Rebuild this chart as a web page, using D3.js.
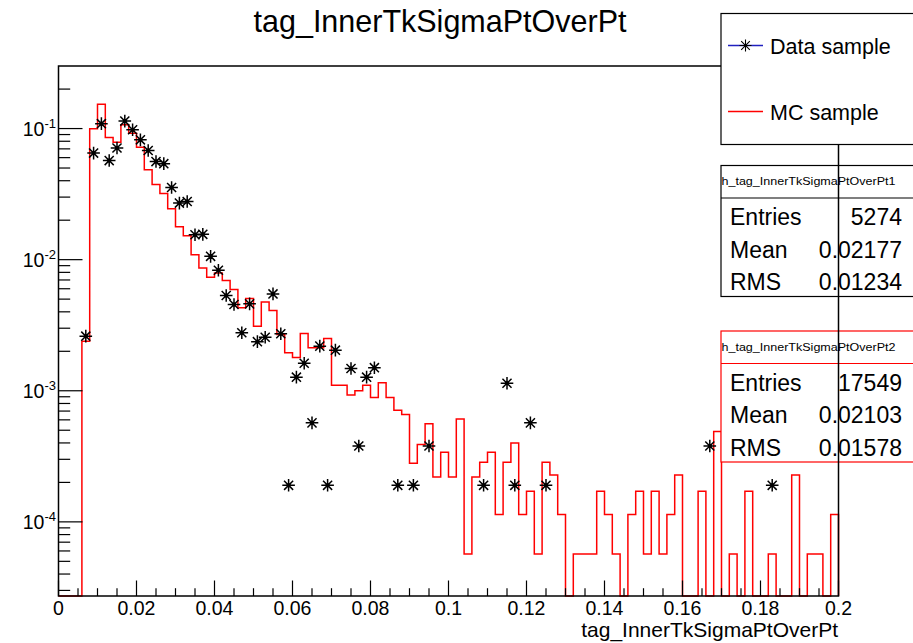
<!DOCTYPE html>
<html><head><meta charset="utf-8">
<script src="https://cdn.jsdelivr.net/npm/d3@7/dist/d3.min.js"></script>
<style>body{margin:0;background:#fff}svg{display:block}text{font-family:"Liberation Sans",Arial,Helvetica,sans-serif}</style>
</head><body><svg id="c" width="913" height="643"></svg>
<script>
// ---- data (100 bins, 0 .. 0.2, width 0.002) ----
const binEdgesMin = 0, binEdgesMax = 0.2, nBins = 100;
const mcValues = [0,0,0,0.00239,0.0995,0.153,0.0854,0.0786,0.107,0.092,
 0.072,0.0485,0.0375,0.032,0.0244,0.0178,0.0152,0.0109,0.00865,0.00735,
 0.00792,0.00693,0.00592,0.00429,0.00506,0.00311,0.00475,0.0041,0.00269,0.00195,
 0.00179,0.00273,0.00213,0.00213,0.0025,0.0011,0.0011,0.00093,0.001,0.0011,
 0.00089,0.00115,0.00089,0.00071,0.00066,0.00028,0.00039,0.00056,0.00022,0.00034,
 0.00022,0.00061,0.000057,0.00022,0.000285,0.00034,0.000114,0.000285,0.0004,0.000114,
 0.000171,0.000057,0.000285,0.000228,0.000114,0,0.000057,0.000057,0.000057,0.000171,
 0.000114,0.000057,0,0.000114,0.000171,0.000057,0.000171,0.000057,0.000114,0.000228,
 0,0,0.000171,0,0.00049,0,0.000057,0,0.000171,0,
 0,0.000057,0,0,0.000228,0,0.000057,0.000057,0,0.000114];
const dataValues = [0,0,0,0.00261,0.065,0.109,0.057,0.071,0.114,0.098,
 0.082,0.068,0.056,0.054,0.0355,0.027,0.0278,0.0155,0.0156,0.0106,
 0.0083,0.00533,0.00455,0.00277,0.0046,0.00237,0.00256,0.00548,0.00272,0.00019,
 0.00127,0.00162,0.000569,0.00219,0.00019,0.00204,0,0.00148,0.000379,0.00127,
 0.0015,0,0,0.00019,0,0.00019,0,0.000379,0,0,
 0,0,0,0,0.00019,0,0,0.00114,0.00019,0,
 0.000569,0,0.00019,0,0,0,0,0,0,0,
 0,0,0,0,0,0,0,0,0,0,
 0,0,0,0.000379,0,0,0,0,0,0,
 0,0.00019,0,0,0,0,0,0,0,0];
const xTickValues = [0,0.02,0.04,0.06,0.08,0.1,0.12,0.14,0.16,0.18,0.2];
const xTickLabels = ["0","0.02","0.04","0.06","0.08","0.1","0.12","0.14","0.16","0.18","0.2"];
const yDecades = [1e-4,1e-3,1e-2,1e-1];
const yDecadeExp = ["-4","-3","-2","-1"];
const titleText = "tag_InnerTkSigmaPtOverPt";
const xAxisTitle = "tag_InnerTkSigmaPtOverPt";
const legendLabels = ["Data sample","MC sample"];
const stats1Name = "h_tag_InnerTkSigmaPtOverPt1";
const stats1Labels = ["Entries","Mean","RMS"];
const stats1Values = ["5274","0.02177","0.01234"];
const stats2Name = "h_tag_InnerTkSigmaPtOverPt2";
const stats2Values = ["17549","0.02103","0.01578"];

// ---- layout ----
const L = 58.5, R = 838.5, T = 66, B = 596;
const yMin = 2.72e-5, yMax = 0.30;
const svg = d3.select("#c");
const x = d3.scaleLinear().domain([binEdgesMin, binEdgesMax]).range([L, R]);
const y = d3.scaleLog().domain([yMin, yMax]).range([B, T]).clamp(true);
const bw = (binEdgesMax - binEdgesMin) / nBins;
const yv = v => v > 0 ? y(v) : B;

svg.append("rect").attr("width",913).attr("height",643).attr("fill","#fff");

// MC histogram step path
let p = d3.path();
p.moveTo(x(0), B);
mcValues.forEach((v,i)=>{ const yy = yv(v); p.lineTo(x(i*bw), yy); p.lineTo(x((i+1)*bw), yy); });
p.lineTo(x(nBins*bw), B);
svg.append("path").attr("d", p.toString()).attr("fill","none").attr("stroke","#ff0000").attr("stroke-width",1.5);

// data markers
function star(g, cx, cy, s, w){
  const d = s*0.72;
  g.append("path").attr("d",`M${cx-s},${cy}H${cx+s}M${cx},${cy-s}V${cy+s}M${cx-d},${cy-d}L${cx+d},${cy+d}M${cx-d},${cy+d}L${cx+d},${cy-d}`)
   .attr("stroke","#000").attr("stroke-width",w).attr("fill","none");
}
const gData = svg.append("g");
dataValues.forEach((v,i)=>{
  if(v>0){ const cx = x((i+0.5)*bw), cy = y(v); star(gData,cx,cy,6.3,1.5); gData.append("circle").attr("cx",cx).attr("cy",cy).attr("r",2).attr("fill","#000"); }
});

// stats boxes
function statsBox(top, color, name, vals){
  const g = svg.append("g");
  g.append("rect").attr("x",721).attr("y",top).attr("width",200).attr("height",131).attr("fill","#fff").attr("stroke",color).attr("stroke-width",1.2);
  g.append("line").attr("x1",721).attr("x2",921).attr("y1",top+32.5).attr("y2",top+32.5).attr("stroke",color).attr("stroke-width",1.2);
  g.append("text").attr("x",721.5).attr("y",top+19.5).attr("font-size",11).attr("textLength",174).attr("lengthAdjust","spacingAndGlyphs").text(name);
  stats1Labels.forEach((lab,k)=>{
    g.append("text").attr("x",730).attr("y",top+59.5+k*32.5).attr("font-size",23).text(lab);
    g.append("text").attr("x",902).attr("y",top+59.5+k*32.5).attr("font-size",23).attr("text-anchor","end").text(vals[k]);
  });
}
statsBox(165.5, "#000", stats1Name, stats1Values);
statsBox(331, "#ff0000", stats2Name, stats2Values);

// frame & axes
svg.append("rect").attr("x",L).attr("y",T).attr("width",R-L).attr("height",B-T).attr("fill","none").attr("stroke","#000").attr("stroke-width",1.5);
const xMinor = d3.range(0, 0.2001, 0.005);
svg.append("g").selectAll("line").data(xMinor).join("line")
  .attr("x1",d=>x(d)).attr("x2",d=>x(d)).attr("y1",B).attr("y2",(d,i)=> i%4===0 ? B-15.5 : B-7.8)
  .attr("stroke","#000").attr("stroke-width",1.2);
svg.append("g").selectAll("text").data(xTickValues).join("text")
  .attr("x",d=>x(d)).attr("y",B+19).attr("text-anchor","middle").attr("font-size",19.5)
  .text((d,i)=>xTickLabels[i]);
// y ticks (log)
const yTicks = [];
for(let e=-5;e<=-1;e++){ for(let m=1;m<=9;m++){ const v=m*Math.pow(10,e); if(v>=yMin && v<=yMax) yTicks.push({v, major:m===1}); } }
svg.append("g").selectAll("line").data(yTicks).join("line")
  .attr("x1",L).attr("x2",d=>L+(d.major?24:11.7)).attr("y1",d=>y(d.v)).attr("y2",d=>y(d.v))
  .attr("stroke","#000").attr("stroke-width",1.2);
const yl = svg.append("g").selectAll("text").data(yDecades).join("text")
  .attr("x",56).attr("y",d=>y(d)+7).attr("text-anchor","end").attr("font-size",19.5);
yl.append("tspan").text("10");
yl.append("tspan").attr("dy",-8).attr("font-size",13).text((d,i)=>yDecadeExp[i]);

// titles
svg.append("text").attr("x",440).attr("y",32).attr("text-anchor","middle").attr("font-size",30.5).text(titleText);
svg.append("text").attr("x",838).attr("y",637).attr("text-anchor","end").attr("font-size",21).text(xAxisTitle);

// legend
const lg = svg.append("g");
lg.append("rect").attr("x",721).attr("y",13.5).attr("width",200).attr("height",131).attr("fill","#fff").attr("stroke","#000").attr("stroke-width",1.2);
lg.append("line").attr("x1",728).attr("x2",763).attr("y1",45.5).attr("y2",45.5).attr("stroke","#2020c0").attr("stroke-width",1.3);
star(lg,745.5,45.5,6,1.1);
lg.append("line").attr("x1",728).attr("x2",763).attr("y1",111.5).attr("y2",111.5).attr("stroke","#ff0000").attr("stroke-width",1.3);
lg.selectAll("text.l").data(legendLabels).join("text").attr("class","l")
  .attr("x",770).attr("y",(d,i)=>53.5+i*66).attr("font-size",21.5).text(d=>d);
</script></body></html>
